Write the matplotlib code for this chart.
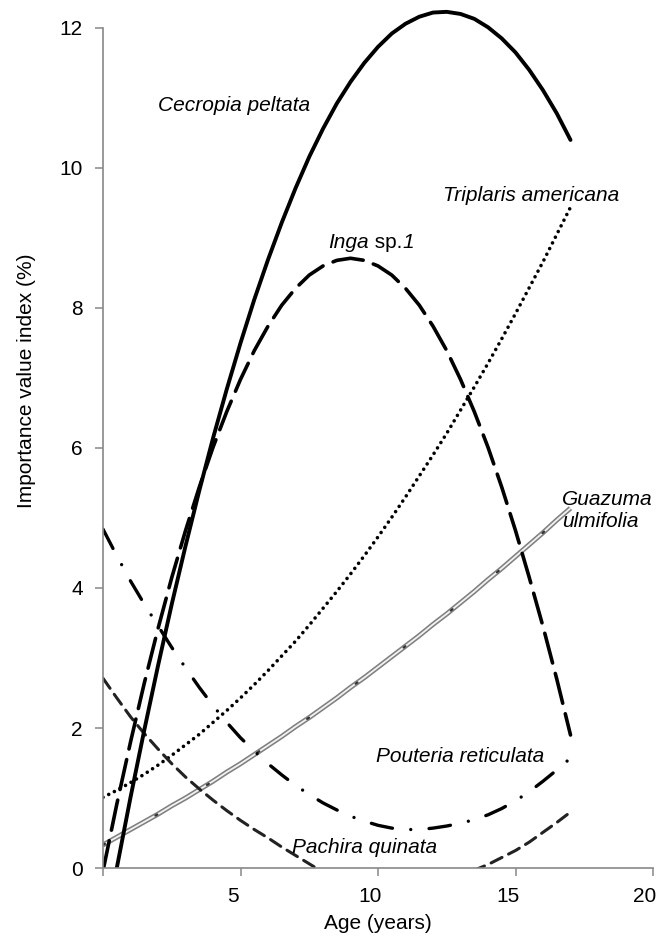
import numpy as np
import matplotlib
matplotlib.use("Agg")
import matplotlib.pyplot as plt
from matplotlib.transforms import ScaledTranslation

plt.rcParams['font.family'] = ['Liberation Sans', 'DejaVu Sans']
plt.rcParams['font.size'] = 15

# values, every half year of stand age (0 .. 17)
age = np.arange(0, 17.5, 0.5)
cecropia = [-1.05, 0.00, 1.01, 1.97, 2.89, 3.77, 4.60, 5.39, 6.14, 6.84,
            7.50, 8.12, 8.69, 9.22, 9.71, 10.16, 10.56, 10.92, 11.23, 11.50,
            11.73, 11.92, 12.06, 12.16, 12.22, 12.23, 12.20, 12.13, 12.01, 11.85,
            11.65, 11.40, 11.11, 10.78, 10.40]
inga = [-0.04, 0.91, 1.80, 2.64, 3.42, 4.15, 4.82, 5.44, 6.01, 6.52,
        6.98, 7.39, 7.74, 8.04, 8.28, 8.47, 8.60, 8.68, 8.71, 8.68,
        8.60, 8.47, 8.28, 8.04, 7.74, 7.39, 6.98, 6.52, 6.01, 5.44,
        4.82, 4.15, 3.45, 2.70, 1.90]
triplaris = [1.01, 1.11, 1.22, 1.34, 1.47, 1.61, 1.76, 1.91, 2.08, 2.25,
             2.43, 2.62, 2.82, 3.03, 3.24, 3.47, 3.71, 3.95, 4.20, 4.46,
             4.73, 5.01, 5.30, 5.60, 5.90, 6.21, 6.54, 6.87, 7.21, 7.56,
             7.92, 8.29, 8.66, 9.05, 9.44]
guazuma = [0.33, 0.44, 0.55, 0.66, 0.77, 0.89, 1.00, 1.12, 1.24, 1.37,
           1.49, 1.62, 1.75, 1.88, 2.02, 2.15, 2.29, 2.43, 2.58, 2.72,
           2.87, 3.02, 3.17, 3.32, 3.48, 3.63, 3.79, 3.95, 4.12, 4.28,
           4.45, 4.62, 4.79, 4.97, 5.14]
pouteria = [4.84, 4.46, 4.10, 3.77, 3.46, 3.15, 2.86, 2.58, 2.32, 2.08,
            1.86, 1.67, 1.49, 1.33, 1.18, 1.05, 0.93, 0.83, 0.74, 0.67,
            0.61, 0.57, 0.55, 0.55, 0.57, 0.60, 0.64, 0.69, 0.76, 0.85,
            0.96, 1.09, 1.24, 1.40, 1.57]
pachira = [2.71, 2.43, 2.16, 1.92, 1.70, 1.49, 1.30, 1.13, 0.97, 0.82,
           0.68, 0.55, 0.43, 0.30, 0.18, 0.06, -0.06, -0.12, -0.17, -0.21,
           -0.23, -0.24, -0.24, -0.22, -0.20, -0.15, -0.10, -0.03, 0.05, 0.15,
           0.25, 0.37, 0.51, 0.65, 0.80]

xticks = [0, 5, 10, 15, 20]
xticklabels = ['', '5', '10', '15', '20']
yticks = [0, 2, 4, 6, 8, 10, 12]

fig = plt.figure(figsize=(6.6, 9.38), dpi=100)
ax = fig.add_axes([0.1561, 0.0746, 0.8333, 0.918])

# Guazuma: grey double line with sparse dark dots
ax.plot(age, guazuma, color='#808080', lw=3.6, solid_capstyle='butt')
ax.plot(age, guazuma, color='#f2f2f2', lw=1.3, solid_capstyle='butt')
ax.plot(age, guazuma, color='#333333', lw=1.6, linestyle=(0, (1, 26)),
        dash_capstyle='round')

ax.plot(age, triplaris, color='black', lw=2.6, linestyle=(0, (0.01, 1.75)),
        dash_capstyle='round')
ax.plot(age, pachira, color='#222222', lw=2.2, linestyle=(0, (4.0, 2.4)),
        dash_capstyle='round')
ax.plot(age, pouteria, color='black', lw=2.4, linestyle=(0, (6.5, 5.5, 0.01, 5.5)),
        dash_capstyle='round')
ax.plot(age, inga, color='black', lw=2.6, linestyle=(0, (8.5, 3.0)),
        dash_capstyle='round')
ax.plot(age, cecropia, color='black', lw=2.8, solid_capstyle='round')

ax.set_xlim(0, 20)
ax.set_ylim(0, 12.3)
ax.spines['top'].set_visible(False)
ax.spines['right'].set_visible(False)
ax.spines['left'].set_bounds(0, 12)
for s in ['left', 'bottom']:
    ax.spines[s].set_color('#888888')
    ax.spines[s].set_linewidth(1.2)

ax.set_xticks(xticks)
ax.set_xticklabels(xticklabels)
ax.set_yticks(yticks)
ax.tick_params(axis='both', direction='out', length=5.5, width=1.1, color='#888888')
ax.tick_params(axis='y', pad=9)
ax.tick_params(axis='x', pad=8)
for lab in ax.get_xticklabels():
    lab.set_transform(lab.get_transform() + ScaledTranslation(-0.08, 0, fig.dpi_scale_trans))

ax.set_xlabel('Age (years)', labelpad=6)
ax.set_ylabel('Importance value index (%)')
ax.yaxis.set_label_coords(-0.122, 0.566)

# species labels
ax.text(2.0, 10.89, 'Cecropia peltata', style='italic', va='center', ha='left')
ax.text(12.36, 9.6, 'Triplaris americana', style='italic', va='center', ha='left')
t1 = ax.text(8.18, 8.94, 'Inga', style='italic', va='center', ha='left')
t2 = ax.annotate(' sp.', xy=(1, 0), xycoords=t1, va='bottom', ha='left')
ax.annotate('1', xy=(1, 0), xycoords=t2, va='bottom', ha='left', style='italic')
ax.text(16.69, 5.11, 'Guazuma\nulmifolia', style='italic', va='center', ha='left')
ax.text(9.93, 1.59, 'Pouteria reticulata', style='italic', va='center', ha='left')
ax.text(6.87, 0.30, 'Pachira quinata', style='italic', va='center', ha='left')

fig.savefig('out.png', dpi=100)
